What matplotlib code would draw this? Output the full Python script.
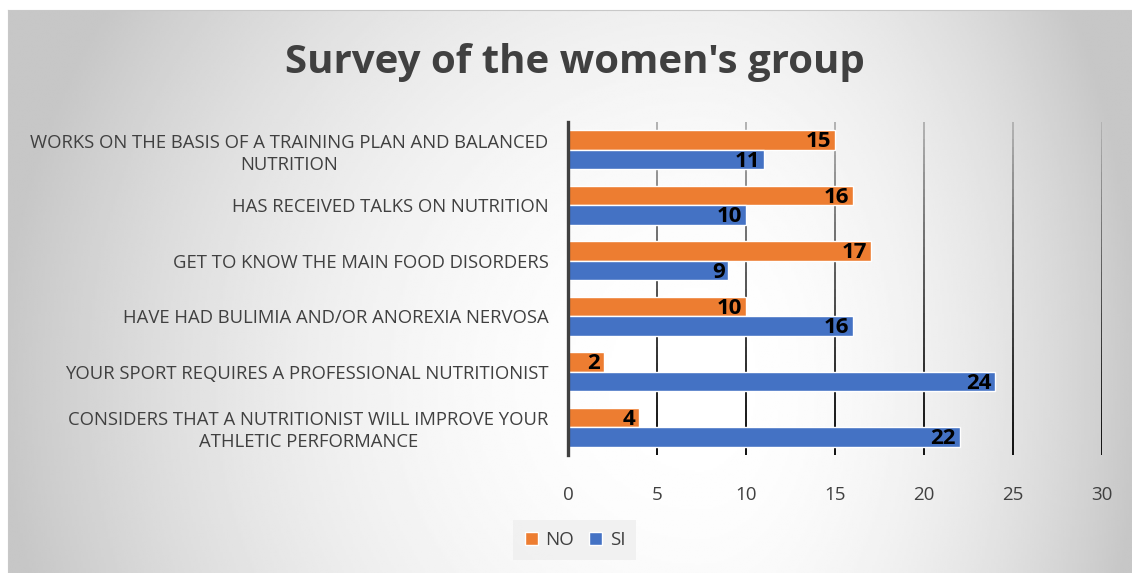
import numpy as np
import matplotlib.pyplot as plt
from matplotlib.collections import LineCollection

plt.rcParams['font.family'] = ['Open Sans', 'DejaVu Sans']

# categories listed bottom to top
categories = [
    "CONSIDERS THAT A NUTRITIONIST WILL IMPROVE YOUR\nATHLETIC PERFORMANCE",
    "YOUR SPORT REQUIRES A PROFESSIONAL NUTRITIONIST",
    "HAVE HAD BULIMIA AND/OR ANOREXIA NERVOSA",
    "GET TO KNOW THE MAIN FOOD DISORDERS",
    "HAS RECEIVED TALKS ON NUTRITION",
    "WORKS ON THE BASIS OF A TRAINING PLAN AND BALANCED\nNUTRITION",
]
no_vals = [4, 2, 10, 17, 16, 15]
si_vals = [22, 24, 16, 9, 10, 11]
xticks = [0, 5, 10, 15, 20, 25, 30]

orange = '#ED7D31'
blue = '#4472C4'
text_col = '#404040'

W, H = 1132, 573
fig = plt.figure(figsize=(W / 100, H / 100), dpi=100)

# radial grey background of the chart area (pixel coordinates)
x0, ytop = 8, 10
bg = fig.add_axes([x0 / W, 0, 1 - x0 / W, 1 - ytop / H], zorder=-10)
px = np.linspace(x0, W, 500)
py = np.linspace(ytop, H, 260)
gx, gy = np.meshgrid(px, py)
cx, cy = 700, 380
rx = np.where(gx < cx, 700.0, 440.0)
ry = 700.0
r2 = ((gx - cx) / rx) ** 2 + ((gy - cy) / ry) ** 2
shade = 1.0 - 0.22 * np.clip(r2, 0, 1)
bg.imshow(shade, cmap='gray', vmin=0, vmax=1, origin='upper',
          extent=[0, 1, 0, 1], aspect='auto', interpolation='bilinear')
bg.set_xlim(0, 1)
bg.set_ylim(0, 1)
for s in bg.spines.values():
    s.set_color('#c8c8c8')
    s.set_linewidth(0.8)
bg.spines['right'].set_visible(False)
bg.spines['bottom'].set_visible(False)
bg.set_xticks([])
bg.set_yticks([])

ax = fig.add_axes([568 / W, 1 - 455 / H, (1102 - 568) / W, (455 - 122) / H])
ax.patch.set_alpha(0)

y = np.arange(len(categories))
h = 0.35
b_no = ax.barh(y + h / 2, no_vals, height=h, color=orange, edgecolor='white', linewidth=1, zorder=3)
b_si = ax.barh(y - h / 2, si_vals, height=h, color=blue, edgecolor='white', linewidth=1, zorder=3)

for bars, vals in ((b_no, no_vals), (b_si, si_vals)):
    for rect, v in zip(bars, vals):
        ax.text(v - 0.2, rect.get_y() + rect.get_height() / 2 - 0.03, str(v),
                ha='right', va='center', fontsize=16, fontweight='bold',
                color='black', zorder=4)

ax.set_xlim(0, 30)
ax.set_ylim(-0.5, len(categories) - 0.5)

# gridlines fading from light grey at the top to near black at the bottom
segs, cols = [], []
nseg = 40
ys = np.linspace(-0.5, len(categories) - 0.5, nseg + 1)
for xv in xticks[1:]:
    for i in range(nseg):
        segs.append([(xv, ys[i]), (xv, ys[i + 1])])
        g = 0.06 + 0.66 * (i / nseg) ** 1.3
        cols.append((g, g, g))
ax.add_collection(LineCollection(segs, colors=cols, linewidths=1.4, zorder=1))

ax.set_xticks(xticks)
ax.set_xticklabels([str(v) for v in xticks], fontsize=13.5, color=text_col)
ax.set_yticks(y)
ax.set_yticklabels(categories, fontsize=13.3, color=text_col, multialignment='center',
                   linespacing=1.3)
ax.tick_params(axis='both', length=0)
ax.tick_params(axis='x', pad=22)
ax.tick_params(axis='y', pad=14)

for side in ('top', 'right', 'bottom'):
    ax.spines[side].set_visible(False)
ax.spines['left'].set_color('#404040')
ax.spines['left'].set_linewidth(2.4)
ax.spines['left'].set_zorder(5)

fig.text(575 / W, 1 - 62 / H, "Survey of the women's group", ha='center', va='center',
         fontsize=29, fontweight='bold', color=text_col)

leg = fig.legend([b_no, b_si], ['NO', 'SI'], loc='center', bbox_to_anchor=(575 / W, 1 - 540 / H),
                 ncol=2, frameon=True, fontsize=13.5, handlelength=0.7, handleheight=0.7,
                 handletextpad=0.4, columnspacing=0.8, borderpad=0.6, fancybox=False)
leg.get_frame().set_facecolor('#efefef')
leg.get_frame().set_edgecolor('none')
for t in leg.get_texts():
    t.set_color(text_col)

fig.savefig('out.png', dpi=100)
